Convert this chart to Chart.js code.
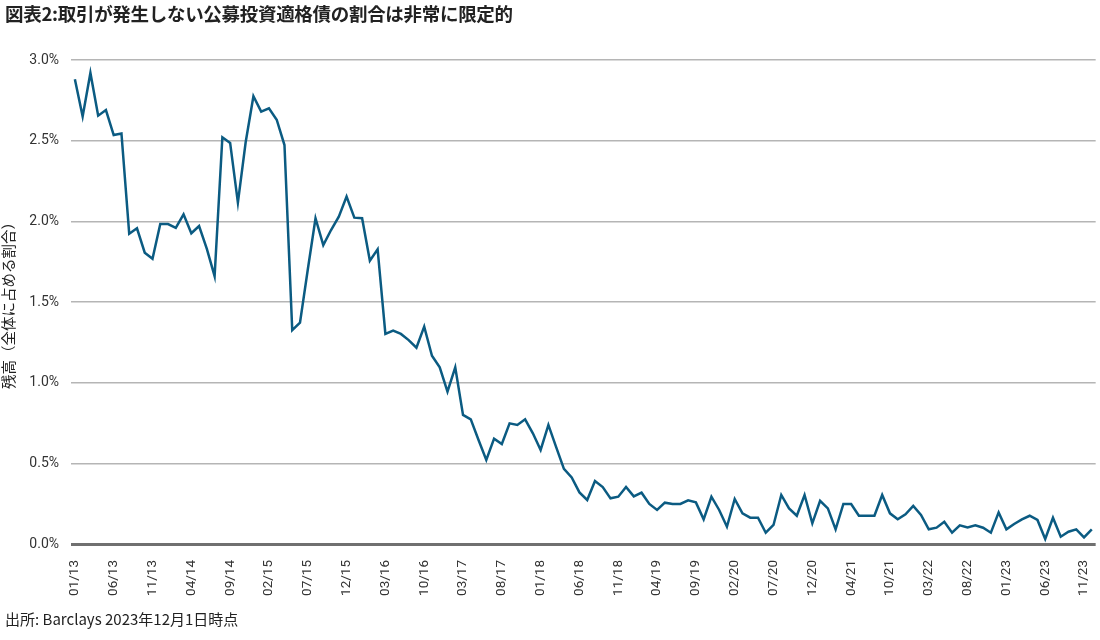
<!DOCTYPE html>
<html lang="ja">
<head>
<meta charset="utf-8">
<script src="https://cdn.jsdelivr.net/npm/chart.js@4.4.1/dist/chart.umd.min.js"></script>
<style>
  html, body { margin: 0; padding: 0; background: #fff; }
  body { width: 1100px; height: 640px; position: relative; overflow: hidden; font-family: "Noto Sans CJK JP", sans-serif; color: #222; }
  #title { position: absolute; left: 5px; top: 0px; font-size: 18.5px; font-weight: bold; letter-spacing: -0.3px; }
  #source { position: absolute; left: 5px; top: 608px; font-size: 15px; }
  #wrap { position: absolute; left: 0; top: 0; width: 1116px; height: 640px; }
</style>
</head>
<body>
<div id="wrap"><canvas id="shareChart"></canvas></div>
<div id="title">図表2:取引が発生しない公募投資適格債の割合は非常に限定的</div>
<div id="source">出所: Barclays 2023年12月1日時点</div>
<script>
// tick labels shown every 5th observation
const tickLabels = ['01/13', '06/13', '11/13', '04/14', '09/14', '02/15', '07/15', '12/15', '03/16',
    '10/16', '03/17', '08/17', '01/18', '06/18', '11/18', '04/19', '09/19', '02/20', '07/20',
    '12/20', '04/21', '10/21', '03/22', '08/22', '01/23', '06/23', '11/23'];

// share of outstanding (%) with no trades
const shareValues = [
    2.88, 2.65, 2.92, 2.655, 2.69, 2.535, 2.545, 1.923, 1.957, 1.806,
    1.768, 1.983, 1.983, 1.96, 2.043, 1.926, 1.971, 1.829, 1.66, 2.521,
    2.486, 2.116, 2.49, 2.775, 2.68, 2.70, 2.63, 2.473, 1.326, 1.372,
    1.70, 2.019, 1.853, 1.946, 2.029, 2.153, 2.023, 2.019, 1.756, 1.827,
    1.302, 1.322, 1.302, 1.264, 1.217, 1.347, 1.167, 1.095, 0.944, 1.095,
    0.80, 0.773, 0.645, 0.521, 0.653, 0.62, 0.748, 0.738, 0.773, 0.686,
    0.583, 0.738, 0.60, 0.466, 0.413, 0.32, 0.273, 0.39, 0.353, 0.283,
    0.293, 0.353, 0.295, 0.318, 0.248, 0.211, 0.256, 0.248, 0.248, 0.271,
    0.258, 0.153, 0.293, 0.211, 0.107, 0.279, 0.19, 0.163, 0.163, 0.070,
    0.118, 0.304, 0.221, 0.175, 0.304, 0.128, 0.268, 0.221, 0.091, 0.248,
    0.248, 0.175, 0.175, 0.175, 0.304, 0.19, 0.153, 0.184, 0.236, 0.18,
    0.091, 0.101, 0.138, 0.070, 0.116, 0.103, 0.116, 0.101, 0.070, 0.196,
    0.091, 0.124, 0.153, 0.175, 0.149, 0.031, 0.163, 0.045, 0.076, 0.091,
    0.041, 0.091
];

const yTicks = [0, 0.5, 1.0, 1.5, 2.0, 2.5, 3.0];

const labels = shareValues.map((v, i) => (i % 5 === 0 ? (tickLabels[i / 5] || '') : ''));

const ctx = document.getElementById('shareChart').getContext('2d');
const shareChart = new Chart(ctx, {
    type: 'line',
    data: {
        labels: labels,
        datasets: [{
            label: '残高',
            data: shareValues,
            borderColor: '#0b5b82',
            borderWidth: 2.5,
            pointRadius: 0,
            tension: 0,
            fill: false
        }]
    },
    options: {
        responsive: true,
        maintainAspectRatio: false,
        animation: false,
        layout: {
            padding: { top: 60, right: 4, left: 0, bottom: 0 }
        },
        plugins: {
            legend: { display: false },
            tooltip: { enabled: false }
        },
        scales: {
            x: {
                offset: true,
                grid: { display: false },
                border: { display: false },
                ticks: {
                    autoSkip: false,
                    minRotation: 90,
                    maxRotation: 90,
                    padding: 8,
                    color: '#333',
                    font: { family: 'Roboto', size: 13.5 }
                },
                afterFit: (scale) => { scale.height = 96; }
            },
            y: {
                min: 0,
                max: 3,
                afterBuildTicks: (scale) => { scale.ticks = yTicks.map(v => ({ value: v })); },
                grid: {
                    color: (c) => (c.tick && c.tick.value === 0 ? '#707070' : '#b5b5b5'),
                    lineWidth: (c) => (c.tick && c.tick.value === 0 ? 3 : 1.5),
                    drawTicks: false
                },
                border: { display: false },
                ticks: {
                    padding: 12,
                    color: '#333',
                    font: { family: 'Roboto', size: 14 },
                    callback: (v) => v.toFixed(1) + '%'
                },
                title: {
                    display: true,
                    text: '残高（全体に占める割合）',
                    color: '#222',
                    padding: { top: 0, bottom: 0 },
                    font: { family: 'Noto Sans CJK JP', size: 14.5 }
                },
                afterFit: (scale) => { scale.width = 71; }
            }
        }
    }
});
</script>
</body>
</html>
